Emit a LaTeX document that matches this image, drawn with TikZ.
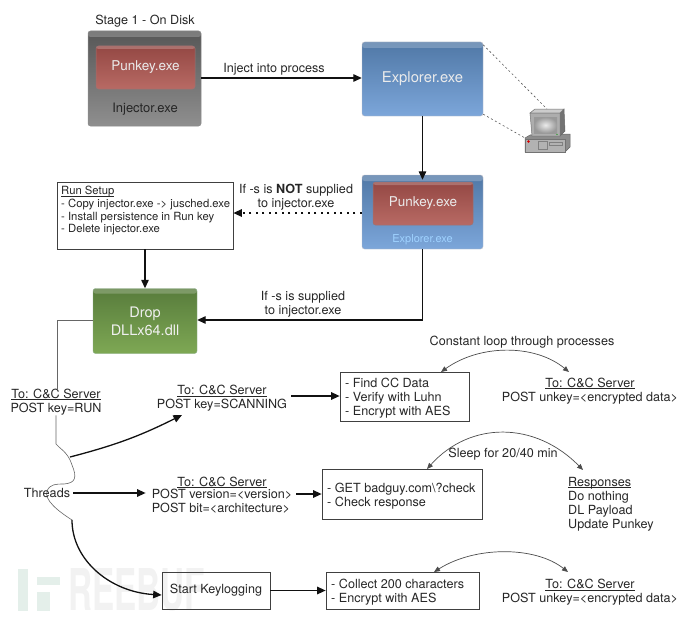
\documentclass[tikz,border=0pt]{standalone}
\usepackage{fontspec}
\setmainfont{TeX Gyre Heros}
\usetikzlibrary{arrows.meta,calc,shapes.geometric}
\definecolor{inka}{HTML}{262626}
\definecolor{linea}{HTML}{111111}
\definecolor{wm}{HTML}{E4EFEA}
\newcommand\ulx[1]{\leavevmode\setbox0=\hbox{#1}\copy0\llap{\rule[-1.6pt]{\wd0}{.55pt}}}
\tikzset{
  txt/.style={font=\fontsize{12.6}{14}\selectfont,text=inka,inner sep=0pt,align=center},
  txtl/.style={font=\fontsize{12.6}{14}\selectfont,text=inka,inner sep=0pt,align=left},
  glossy/.style={rounded corners=2.5pt,path picture={\fill[white,opacity=.22] (path picture bounding box.north west) rectangle ([yshift=-#1]path picture bounding box.north east);}},
  greybox/.style={draw=black!45,line width=.5pt,top color=black!66,bottom color=black!44,glossy=6pt,minimum width=113pt,minimum height=95pt,inner sep=0pt},
  redbox/.style={draw=red!30!black!55,line width=.5pt,top color={rgb,255:red,148;green,72;blue,68},bottom color={rgb,255:red,184;green,106;blue,100},glossy=3pt,minimum width=99pt,minimum height=43pt,inner sep=0pt,text=white!92!black,font=\fontsize{13.5}{15}\selectfont},
  bluebox/.style={draw=blue!15!black!25,line width=.4pt,top color={rgb,255:red,80;green,120;blue,166},bottom color={rgb,255:red,124;green,166;blue,218},glossy=6pt,minimum width=121pt,minimum height=74pt,inner sep=0pt,text=white!92!black,font=\fontsize{14.8}{16}\selectfont},
  greenbox/.style={draw=green!30!black!45,line width=.4pt,top color={rgb,255:red,88;green,124;blue,60},bottom color={rgb,255:red,126;green,168;blue,84},glossy=5pt,minimum width=104pt,minimum height=65pt,inner sep=0pt,text=white!94!black,align=center,font=\fontsize{14.5}{18}\selectfont},
  plainbox/.style={draw=black!75,line width=.7pt,inner sep=0pt,font=\fontsize{12.6}{14}\selectfont,text=inka},
  arr/.style={draw=linea,line width=1.3pt,-{Triangle[length=8.5pt,width=7.5pt]}},
  arc2/.style={draw=black!70,line width=.7pt,{Triangle[length=6pt,width=5pt]}-{Triangle[length=6pt,width=5pt]}},
  greyln/.style={draw=black!60,line width=.6pt},
  compdash/.style={draw=black!65,line width=.6pt,dash pattern=on 2pt off 2.5pt},
}
\begin{document}
\begin{tikzpicture}[x=1pt,y=-1pt]
\useasboundingbox (0,0) rectangle (690,618);
% watermark
\fill[wm] (18,569) rectangle (28,611);
\fill[wm] (37,577) rectangle (60,585);
\fill[wm] (37,592) rectangle (50,611);
\node[anchor=south west,inner sep=0pt,text=black!5] (wmark) at (68,611) {\resizebox{137pt}{42pt}{\bfseries REEBUF}};
% top row
\node[txt] (stage) at (145,21) {Stage 1 - On Disk};
\node[greybox] (inj) at (144.5,78.5) {};
\node[redbox] (pk1) at (145.5,67.5) {Punkey.exe};
\node[txt,font=\fontsize{13}{15}\selectfont,text=black!85] (injl) at (145,109) {Injector.exe};
\node[bluebox] (exp) at (422.5,79) {Explorer.exe};
\node[txt] (injtxt) at (274,69) {Inject into process};
\draw[arr] (inj.east |- 0,78) -- (exp.west |- 0,78);
% computer
\coordinate (pcn) at (547,109);
\coordinate (pcw) at (525,138);
\begin{scope}[line width=.5pt]
\fill[black!45,draw=black!60] (525,138) -- (530,135) -- (565,134) -- (570,134) -- (570,147) -- (565,152) -- (525,152) -- cycle;
\fill[black!30,draw=black!55] (525,139) rectangle (565,152);
\fill[black!55,draw=black!60] (560,113) -- (564,109) -- (565,131) -- (560,136) -- cycle;
\fill[black!20,draw=black!55] (530,113) -- (535,109) -- (564,109) -- (560,113) -- cycle;
\fill[black!32,draw=black!55] (530,113) -- (560,113) -- (560,136) -- (532,136) -- cycle;
\shade[inner color=black!8,outer color=black!40] (534,117) rectangle (557,133);
\draw[black!50] (538,141) rectangle (547,149);
\draw[black!50] (549,142) rectangle (562,145);
\fill[red!85!black] (528.5,141.5) circle (1.3pt);
\fill[green!60!black] (557,134.5) circle (.6pt);
\end{scope}
\draw[compdash] ([yshift=-3pt]exp.north east) -- (pcn);
\draw[compdash] ([yshift=2pt]exp.south east) -- (pcw);
% second row
\node[bluebox] (exp2) at (422.5,212) {};
\node[redbox,minimum width=100pt] (pk2) at (423,203.5) {Punkey.exe};
\node[txt,font=\fontsize{11}{12}\selectfont,text=white!78!blue!80!cyan] (expl2) at (422.5,240) {Explorer.exe};
\draw[arr] (exp.south) -- ([yshift=-5pt]exp2.north);
\node[plainbox,fill=white,minimum width=176pt,minimum height=67pt] (run) at (145,215.5) {};
\node[txtl,anchor=north west,font=\fontsize{11.3}{12.7}\selectfont] (runt) at (61,186) {\ulx{Run Setup}\\- Copy injector.exe -> jusched.exe\\- Install persistence in Run key\\- Delete injector.exe};
\node[txt] (ifnot) at (296,197) {If -s is \textbf{NOT} supplied\\to injector.exe};
\draw[arr,dash pattern=on 2pt off 4.5pt] (exp2.west |- 0,213) -- (run.east |- 0,213);
\node[greenbox] (drop) at (145,321) {Drop\\DLLx64.dll};
\draw[arr] (run.south -| drop.north) -- (drop.north);
\node[txt] (ifs) at (303,304) {If -s is supplied\\to injector.exe};
\draw[arr] (exp2.south) |- (drop.east |- 0,320);
% left column
\node[txt] (post1) at (56,402) {\ulx{To: C\&C Server}\\POST key=RUN};
\draw[greyln] (drop.west |- 0,320) -| (post1.north -| 57,0);
\coordinate (bra) at (56,444);
\draw[greyln] (post1.south -| bra) -- (bra)
  .. controls (60,449) and (68,452) .. (72,465)
  .. controls (77,477) and (76,483) .. (64,484)
  .. controls (56,484) and (50,484) .. (47,491)
  .. controls (44,500) and (58,511) .. (72,520);
\coordinate (bra1) at (70,457);
\coordinate (bra3) at (72,520);
\node[txt] (threads) at (47,493) {Threads};
% row A
\node[txt] (scan) at (222,398.5) {\ulx{To: C\&C Server}\\POST key=SCANNING};
\draw[arr] (bra1) to[bend right=6] (182,415);
\node[plainbox,minimum width=129pt,minimum height=49pt] (cc) at (404.5,396.5) {};
\node[txtl,anchor=west] (cct) at (345,398) {- Find CC Data\\- Verify with Luhn\\- Encrypt with AES};
\draw[arr] ([xshift=4pt]scan.east |- 0,396) -- (cc.west |- 0,396);
\node[txt] (loop) at (522,342) {Constant loop through processes};
\node[txt] (unk1) at (590,391) {\ulx{To: C\&C Server}\\POST unkey=<encrypted data>};
\draw[arc2] (441,372) .. controls (480,344) and (535,344) .. (569,372);
% row B
\node[txt] (ver) at (222,497) {\ulx{To: C\&C Server}\\[0pt]\begin{tabular}{@{}l@{}}POST version=<version>\\POST bit=<architecture>\end{tabular}};
\draw[arr] ([xshift=3pt]threads.east) -- ([xshift=-6pt]ver.west |- 0,493);
\node[plainbox,minimum width=160pt,minimum height=50pt] (get) at (402,494) {};
\node[txtl,anchor=west] (gett) at (327,496) {- GET badguy.com\textbackslash?check\\- Check response};
\draw[arr] ([xshift=4pt]ver.east |- 0,494) -- (get.west |- 0,494);
\node[txt] (sleep) at (503,454) {Sleep for 20/40 min};
\draw[arc2] (427,469) .. controls (470,421) and (535,421) .. (583,470);
\node[txtl,anchor=north west] (resp) at (568,477) {\ulx{Responses}\\Do nothing\\DL Payload\\Update Punkey};
% row C
\node[plainbox,minimum width=108pt,minimum height=37pt] (key) at (216,590.5) {Start Keylogging};
\draw[arr] (bra3) .. controls (72,560) and (110,592) .. ([yshift=-4.5pt]key.west);
\node[plainbox,minimum width=153pt,minimum height=37pt] (col) at (402.5,590.5) {};
\node[txtl,anchor=west] (colt) at (331,592.5) {- Collect 200 characters\\- Encrypt with AES};
\draw[arr] (key.east) -- (col.west |- key.east);
\node[txt] (unk2) at (590,592.5) {\ulx{To: C\&C Server}\\POST unkey=<encrypted data>};
\draw[arc2] (434,572) .. controls (475,546) and (535,546) .. (568,572);
\end{tikzpicture}
\end{document}
